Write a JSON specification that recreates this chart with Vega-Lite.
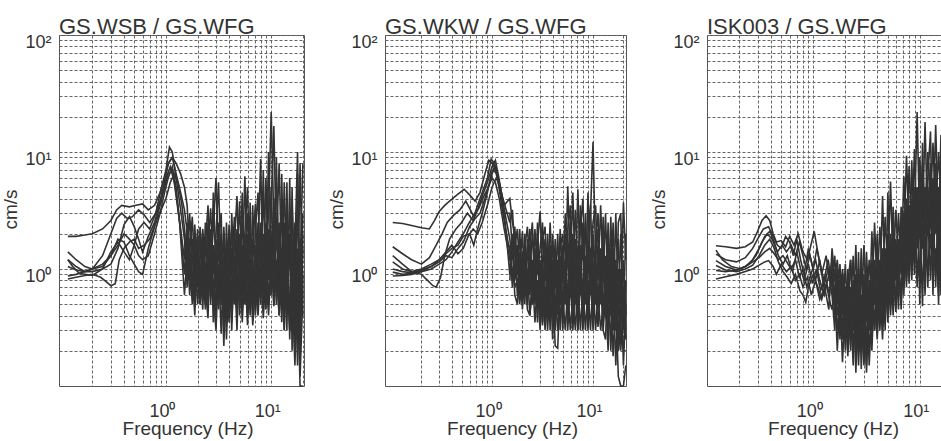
{
"$schema":"https://vega.github.io/schema/vega-lite/v6.json",
"background":"white",
"padding":{"left":0,"top":15,"right":0,"bottom":0},
"spacing":81,
"bounds":"flush",
"config":{
 "font":"Liberation Sans",
 "view":{"stroke":"#555","strokeWidth":1},
 "axis":{"grid":true,"gridColor":"#666","gridDash":[3,2],"gridWidth":1,"domain":false,"ticks":false,"tickSize":0,"labelFont":"Liberation Sans","labelFontSize":18,"labelColor":"#333","labelOverlap":false,"labelFlush":false,"titleFont":"Liberation Sans","titleFontSize":19,"titleFontWeight":"normal","titleColor":"#333"},
 "axisX":{"labelAlign":"center","labelBaseline":"alphabetic","labelPadding":30,"labelOffset":-4,"titleBaseline":"alphabetic","titleAlign":"center","titleY":48},
 "axisY":{"labelAlign":"right","labelBaseline":"middle","labelPadding":8,"labelOffset":7,"titleAngle":270,"titleX":-39,"titleY":174,"titleBaseline":"bottom","titleAlign":"center"},
 "title":{"anchor":"start","frame":"group","baseline":"alphabetic","offset":-6,"fontSize":22,"fontWeight":"normal","color":"#333","font":"Liberation Sans"},
 "line":{"color":"#333","strokeWidth":1.6,"clip":true}
},
"datasets":{
"a":[
{"c":1,"f":0.117,"v":1.9},{"c":1,"f":0.14,"v":1.9},{"c":1,"f":0.17,"v":1.95},{"c":1,"f":0.2,"v":2.0},{"c":1,"f":0.25,"v":2.2},{"c":1,"f":0.3,"v":2.6},{"c":1,"f":0.34,"v":3.2},{"c":1,"f":0.38,"v":3.5},{"c":1,"f":0.45,"v":3.4},{"c":1,"f":0.52,"v":3.5},{"c":1,"f":0.6,"v":3.6},{"c":1,"f":0.68,"v":3.2},{"c":1,"f":0.78,"v":3.5},{"c":1,"f":0.88,"v":4.5},{"c":1,"f":0.97,"v":6},{"c":1,"f":1.06,"v":8},{"c":1,"f":1.15,"v":9},{"c":1,"f":1.25,"v":6.5},{"c":1,"f":1.38,"v":4.5},
{"c":1,"f":1.5,"v":3.2},{"c":1,"f":1.59,"v":2.1},{"c":1,"f":1.68,"v":2.6},{"c":1,"f":1.78,"v":1.5},{"c":1,"f":1.88,"v":2.0},{"c":1,"f":2.0,"v":1.1},{"c":1,"f":2.11,"v":1.8},{"c":1,"f":2.24,"v":0.9},{"c":1,"f":2.37,"v":1.6},{"c":1,"f":2.51,"v":3.5},{"c":1,"f":2.66,"v":1.0},{"c":1,"f":2.82,"v":2.2},{"c":1,"f":2.99,"v":6.0},{"c":1,"f":3.16,"v":1.2},{"c":1,"f":3.35,"v":2.0},{"c":1,"f":3.55,"v":0.7},{"c":1,"f":3.76,"v":1.5},{"c":1,"f":3.98,"v":0.9},{"c":1,"f":4.22,"v":2.2},{"c":1,"f":4.47,"v":0.8},{"c":1,"f":4.73,"v":1.9},{"c":1,"f":5.01,"v":0.7},{"c":1,"f":5.31,"v":2.5},{"c":1,"f":5.62,"v":1.2},{"c":1,"f":5.96,"v":3.0},{"c":1,"f":6.31,"v":0.8},{"c":1,"f":6.68,"v":1.8},{"c":1,"f":7.08,"v":0.9},{"c":1,"f":7.5,"v":2.5},{"c":1,"f":7.94,"v":1.3},{"c":1,"f":8.41,"v":4.0},{"c":1,"f":8.91,"v":1.1},{"c":1,"f":9.44,"v":3.0},{"c":1,"f":10.0,"v":22},{"c":1,"f":10.6,"v":2.5},{"c":1,"f":11.2,"v":5.0},{"c":1,"f":11.9,"v":1.2},{"c":1,"f":12.6,"v":3.0},{"c":1,"f":13.3,"v":0.8},{"c":1,"f":14.1,"v":2.5},{"c":1,"f":15.0,"v":1.0},{"c":1,"f":15.8,"v":3.5},{"c":1,"f":16.8,"v":0.7},{"c":1,"f":17.8,"v":4.0},{"c":1,"f":18.8,"v":0.5},{"c":1,"f":20.0,"v":3.0},
{"c":2,"f":0.117,"v":1.4},{"c":2,"f":0.14,"v":1.2},{"c":2,"f":0.17,"v":1.05},{"c":2,"f":0.2,"v":1.0},{"c":2,"f":0.25,"v":1.3},{"c":2,"f":0.3,"v":2.0},{"c":2,"f":0.34,"v":2.7},{"c":2,"f":0.38,"v":3.0},{"c":2,"f":0.43,"v":2.7},{"c":2,"f":0.48,"v":2.8},{"c":2,"f":0.55,"v":3.2},{"c":2,"f":0.62,"v":2.9},{"c":2,"f":0.7,"v":2.5},{"c":2,"f":0.8,"v":3.0},{"c":2,"f":0.9,"v":4.8},{"c":2,"f":1.0,"v":7},{"c":2,"f":1.08,"v":11},{"c":2,"f":1.15,"v":10},{"c":2,"f":1.25,"v":6},{"c":2,"f":1.38,"v":3.2},
{"c":2,"f":1.5,"v":1.8},{"c":2,"f":1.59,"v":1.0},{"c":2,"f":1.68,"v":1.5},{"c":2,"f":1.78,"v":0.7},{"c":2,"f":1.88,"v":1.3},{"c":2,"f":2.0,"v":0.5},{"c":2,"f":2.11,"v":1.2},{"c":2,"f":2.24,"v":2.2},{"c":2,"f":2.37,"v":0.8},{"c":2,"f":2.51,"v":1.6},{"c":2,"f":2.66,"v":3.3},{"c":2,"f":2.82,"v":0.9},{"c":2,"f":2.99,"v":2.0},{"c":2,"f":3.16,"v":5.5},{"c":2,"f":3.35,"v":0.9},{"c":2,"f":3.55,"v":1.8},{"c":2,"f":3.76,"v":0.5},{"c":2,"f":3.98,"v":2.4},{"c":2,"f":4.22,"v":1.0},{"c":2,"f":4.47,"v":2.8},{"c":2,"f":4.73,"v":0.6},{"c":2,"f":5.01,"v":1.6},{"c":2,"f":5.31,"v":0.9},{"c":2,"f":5.62,"v":6.2},{"c":2,"f":5.96,"v":1.0},{"c":2,"f":6.31,"v":2.0},{"c":2,"f":6.68,"v":0.6},{"c":2,"f":7.08,"v":1.4},{"c":2,"f":7.5,"v":0.8},{"c":2,"f":7.94,"v":2.2},{"c":2,"f":8.41,"v":0.7},{"c":2,"f":8.91,"v":6.0},{"c":2,"f":9.44,"v":1.0},{"c":2,"f":10.0,"v":3.5},{"c":2,"f":10.6,"v":16.7},{"c":2,"f":11.2,"v":1.5},{"c":2,"f":11.9,"v":8.0},{"c":2,"f":12.6,"v":0.9},{"c":2,"f":13.3,"v":2.5},{"c":2,"f":14.1,"v":0.6},{"c":2,"f":15.0,"v":2.0},{"c":2,"f":15.8,"v":0.5},{"c":2,"f":16.8,"v":2.5},{"c":2,"f":17.8,"v":0.4},{"c":2,"f":18.8,"v":8.0},{"c":2,"f":20.0,"v":0.6},
{"c":3,"f":0.117,"v":1.2},{"c":3,"f":0.14,"v":1.05},{"c":3,"f":0.17,"v":0.95},{"c":3,"f":0.2,"v":0.95},{"c":3,"f":0.25,"v":1.0},{"c":3,"f":0.3,"v":1.1},{"c":3,"f":0.35,"v":1.5},{"c":3,"f":0.4,"v":2.4},{"c":3,"f":0.45,"v":2.8},{"c":3,"f":0.5,"v":2.3},{"c":3,"f":0.55,"v":1.8},{"c":3,"f":0.6,"v":1.4},{"c":3,"f":0.68,"v":1.9},{"c":3,"f":0.78,"v":2.5},{"c":3,"f":0.88,"v":3.8},{"c":3,"f":0.97,"v":5.5},{"c":3,"f":1.05,"v":8},{"c":3,"f":1.15,"v":9},{"c":3,"f":1.25,"v":8},{"c":3,"f":1.38,"v":6.5},
{"c":3,"f":1.5,"v":5.0},{"c":3,"f":1.59,"v":3.5},{"c":3,"f":1.68,"v":1.4},{"c":3,"f":1.78,"v":2.8},{"c":3,"f":1.88,"v":0.9},{"c":3,"f":2.0,"v":2.2},{"c":3,"f":2.11,"v":0.6},{"c":3,"f":2.24,"v":1.5},{"c":3,"f":2.37,"v":0.45},{"c":3,"f":2.51,"v":1.2},{"c":3,"f":2.66,"v":0.6},{"c":3,"f":2.82,"v":4.5},{"c":3,"f":2.99,"v":0.9},{"c":3,"f":3.16,"v":2.5},{"c":3,"f":3.35,"v":0.5},{"c":3,"f":3.55,"v":2.3},{"c":3,"f":3.76,"v":0.7},{"c":3,"f":3.98,"v":1.4},{"c":3,"f":4.22,"v":0.3},{"c":3,"f":4.47,"v":1.6},{"c":3,"f":4.73,"v":4.2},{"c":3,"f":5.01,"v":0.8},{"c":3,"f":5.31,"v":4.5},{"c":3,"f":5.62,"v":0.7},{"c":3,"f":5.96,"v":2.0},{"c":3,"f":6.31,"v":0.5},{"c":3,"f":6.68,"v":3.5},{"c":3,"f":7.08,"v":0.6},{"c":3,"f":7.5,"v":2.0},{"c":3,"f":7.94,"v":0.6},{"c":3,"f":8.41,"v":7.0},{"c":3,"f":8.91,"v":0.8},{"c":3,"f":9.44,"v":10},{"c":3,"f":10.0,"v":1.2},{"c":3,"f":10.6,"v":4.0},{"c":3,"f":11.2,"v":0.7},{"c":3,"f":11.9,"v":2.5},{"c":3,"f":12.6,"v":0.5},{"c":3,"f":13.3,"v":5.5},{"c":3,"f":14.1,"v":0.9},{"c":3,"f":15.0,"v":2.0},{"c":3,"f":15.8,"v":0.4},{"c":3,"f":16.8,"v":1.5},{"c":3,"f":17.8,"v":10},{"c":3,"f":18.8,"v":0.3},{"c":3,"f":20.0,"v":1.5},
{"c":4,"f":0.117,"v":1.05},{"c":4,"f":0.14,"v":0.98},{"c":4,"f":0.17,"v":0.95},{"c":4,"f":0.2,"v":1.0},{"c":4,"f":0.25,"v":1.1},{"c":4,"f":0.3,"v":1.3},{"c":4,"f":0.35,"v":1.8},{"c":4,"f":0.4,"v":1.7},{"c":4,"f":0.45,"v":1.3},{"c":4,"f":0.5,"v":1.1},{"c":4,"f":0.55,"v":0.95},{"c":4,"f":0.6,"v":0.9},{"c":4,"f":0.68,"v":1.5},{"c":4,"f":0.78,"v":2.3},{"c":4,"f":0.88,"v":3.5},{"c":4,"f":0.97,"v":5},{"c":4,"f":1.05,"v":6.5},{"c":4,"f":1.15,"v":7},{"c":4,"f":1.25,"v":4.5},{"c":4,"f":1.38,"v":2.2},
{"c":4,"f":1.5,"v":1.2},{"c":4,"f":1.59,"v":2.5},{"c":4,"f":1.68,"v":0.8},{"c":4,"f":1.78,"v":1.8},{"c":4,"f":1.88,"v":0.55},{"c":4,"f":2.0,"v":1.5},{"c":4,"f":2.11,"v":0.8},{"c":4,"f":2.24,"v":2.0},{"c":4,"f":2.37,"v":0.5},{"c":4,"f":2.51,"v":2.5},{"c":4,"f":2.66,"v":0.7},{"c":4,"f":2.82,"v":1.6},{"c":4,"f":2.99,"v":0.4},{"c":4,"f":3.16,"v":1.8},{"c":4,"f":3.35,"v":3.0},{"c":4,"f":3.55,"v":0.3},{"c":4,"f":3.76,"v":2.5},{"c":4,"f":3.98,"v":0.5},{"c":4,"f":4.22,"v":1.5},{"c":4,"f":4.47,"v":0.5},{"c":4,"f":4.73,"v":1.2},{"c":4,"f":5.01,"v":3.8},{"c":4,"f":5.31,"v":0.6},{"c":4,"f":5.62,"v":2.0},{"c":4,"f":5.96,"v":5.0},{"c":4,"f":6.31,"v":0.6},{"c":4,"f":6.68,"v":1.5},{"c":4,"f":7.08,"v":3.6},{"c":4,"f":7.5,"v":0.5},{"c":4,"f":7.94,"v":1.8},{"c":4,"f":8.41,"v":0.6},{"c":4,"f":8.91,"v":2.5},{"c":4,"f":9.44,"v":0.8},{"c":4,"f":10.0,"v":5.0},{"c":4,"f":10.6,"v":0.6},{"c":4,"f":11.2,"v":9.0},{"c":4,"f":11.9,"v":0.6},{"c":4,"f":12.6,"v":6.5},{"c":4,"f":13.3,"v":0.4},{"c":4,"f":14.1,"v":1.8},{"c":4,"f":15.0,"v":0.3},{"c":4,"f":15.8,"v":5.0},{"c":4,"f":16.8,"v":0.25},{"c":4,"f":17.8,"v":1.5},{"c":4,"f":18.8,"v":0.2},{"c":4,"f":20.0,"v":2.0},
{"c":5,"f":0.117,"v":0.87},{"c":5,"f":0.14,"v":0.9},{"c":5,"f":0.17,"v":0.95},{"c":5,"f":0.2,"v":1.0},{"c":5,"f":0.25,"v":1.05},{"c":5,"f":0.3,"v":1.3},{"c":5,"f":0.35,"v":1.6},{"c":5,"f":0.4,"v":2.0},{"c":5,"f":0.45,"v":1.8},{"c":5,"f":0.5,"v":1.6},{"c":5,"f":0.55,"v":1.3},{"c":5,"f":0.6,"v":1.2},{"c":5,"f":0.68,"v":1.3},{"c":5,"f":0.78,"v":2.0},{"c":5,"f":0.88,"v":3.0},{"c":5,"f":0.97,"v":4.5},{"c":5,"f":1.05,"v":6},{"c":5,"f":1.15,"v":7.5},{"c":5,"f":1.25,"v":5},{"c":5,"f":1.38,"v":2.0},
{"c":5,"f":1.5,"v":0.9},{"c":5,"f":1.59,"v":1.6},{"c":5,"f":1.68,"v":0.6},{"c":5,"f":1.78,"v":1.2},{"c":5,"f":1.88,"v":2.4},{"c":5,"f":2.0,"v":0.7},{"c":5,"f":2.11,"v":2.3},{"c":5,"f":2.24,"v":0.6},{"c":5,"f":2.37,"v":2.5},{"c":5,"f":2.51,"v":0.5},{"c":5,"f":2.66,"v":1.5},{"c":5,"f":2.82,"v":0.5},{"c":5,"f":2.99,"v":1.8},{"c":5,"f":3.16,"v":0.6},{"c":5,"f":3.35,"v":1.2},{"c":5,"f":3.55,"v":0.22},{"c":5,"f":3.76,"v":1.2},{"c":5,"f":3.98,"v":2.0},{"c":5,"f":4.22,"v":0.6},{"c":5,"f":4.47,"v":1.2},{"c":5,"f":4.73,"v":0.4},{"c":5,"f":5.01,"v":2.0},{"c":5,"f":5.31,"v":0.5},{"c":5,"f":5.62,"v":1.6},{"c":5,"f":5.96,"v":0.4},{"c":5,"f":6.31,"v":3.7},{"c":5,"f":6.68,"v":0.4},{"c":5,"f":7.08,"v":2.2},{"c":5,"f":7.5,"v":4.5},{"c":5,"f":7.94,"v":0.5},{"c":5,"f":8.41,"v":2.0},{"c":5,"f":8.91,"v":0.5},{"c":5,"f":9.44,"v":1.8},{"c":5,"f":10.0,"v":0.6},{"c":5,"f":10.6,"v":2.5},{"c":5,"f":11.2,"v":0.5},{"c":5,"f":11.9,"v":1.5},{"c":5,"f":12.6,"v":0.35},{"c":5,"f":13.3,"v":2.0},{"c":5,"f":14.1,"v":0.3},{"c":5,"f":15.0,"v":6.0},{"c":5,"f":15.8,"v":0.2},{"c":5,"f":16.8,"v":1.2},{"c":5,"f":17.8,"v":0.15},{"c":5,"f":18.8,"v":1.0},{"c":5,"f":20.0,"v":8.0},
{"c":6,"f":0.117,"v":0.82},{"c":6,"f":0.14,"v":0.85},{"c":6,"f":0.17,"v":0.88},{"c":6,"f":0.2,"v":0.9},{"c":6,"f":0.24,"v":0.85},{"c":6,"f":0.27,"v":0.78},{"c":6,"f":0.3,"v":0.72},{"c":6,"f":0.33,"v":0.75},{"c":6,"f":0.36,"v":1.2},{"c":6,"f":0.4,"v":1.5},{"c":6,"f":0.45,"v":1.7},{"c":6,"f":0.5,"v":1.8},{"c":6,"f":0.55,"v":1.5},{"c":6,"f":0.62,"v":1.6},{"c":6,"f":0.7,"v":1.8},{"c":6,"f":0.8,"v":2.5},{"c":6,"f":0.9,"v":3.2},{"c":6,"f":1.0,"v":4},{"c":6,"f":1.1,"v":5.5},{"c":6,"f":1.2,"v":6.5},{"c":6,"f":1.3,"v":5.5},{"c":6,"f":1.42,"v":3.5},
{"c":6,"f":1.5,"v":2.2},{"c":6,"f":1.59,"v":0.8},{"c":6,"f":1.68,"v":1.2},{"c":6,"f":1.78,"v":0.5},{"c":6,"f":1.88,"v":1.8},{"c":6,"f":2.0,"v":0.9},{"c":6,"f":2.11,"v":0.5},{"c":6,"f":2.24,"v":1.3},{"c":6,"f":2.37,"v":0.7},{"c":6,"f":2.51,"v":0.38},{"c":6,"f":2.66,"v":2.0},{"c":6,"f":2.82,"v":0.35},{"c":6,"f":2.99,"v":1.0},{"c":6,"f":3.16,"v":0.5},{"c":6,"f":3.35,"v":1.4},{"c":6,"f":3.55,"v":0.4},{"c":6,"f":3.76,"v":0.9},{"c":6,"f":3.98,"v":0.35},{"c":6,"f":4.22,"v":3.0},{"c":6,"f":4.47,"v":0.7},{"c":6,"f":4.73,"v":1.8},{"c":6,"f":5.01,"v":0.4},{"c":6,"f":5.31,"v":1.3},{"c":6,"f":5.62,"v":0.5},{"c":6,"f":5.96,"v":1.3},{"c":6,"f":6.31,"v":0.4},{"c":6,"f":6.68,"v":1.2},{"c":6,"f":7.08,"v":0.4},{"c":6,"f":7.5,"v":1.4},{"c":6,"f":7.94,"v":8.7},{"c":6,"f":8.41,"v":0.5},{"c":6,"f":8.91,"v":1.5},{"c":6,"f":9.44,"v":0.5},{"c":6,"f":10.0,"v":2.0},{"c":6,"f":10.6,"v":0.5},{"c":6,"f":11.2,"v":1.2},{"c":6,"f":11.9,"v":0.4},{"c":6,"f":12.6,"v":1.5},{"c":6,"f":13.3,"v":0.3},{"c":6,"f":14.1,"v":5.5},{"c":6,"f":15.0,"v":0.25},{"c":6,"f":15.8,"v":1.4},{"c":6,"f":16.8,"v":0.18},{"c":6,"f":17.8,"v":6.5},{"c":6,"f":18.8,"v":0.12},{"c":6,"f":20.0,"v":0.6},
{"c":7,"f":0.117,"v":1.2},{"c":7,"f":0.13,"v":1.05},{"c":7,"f":0.15,"v":0.92},{"c":7,"f":0.2,"v":0.88},{"c":7,"f":0.25,"v":1.0},{"c":7,"f":0.3,"v":1.4},{"c":7,"f":0.35,"v":1.7},{"c":7,"f":0.4,"v":1.4},{"c":7,"f":0.45,"v":1.2},{"c":7,"f":0.5,"v":1.6},{"c":7,"f":0.55,"v":2.2},{"c":7,"f":0.62,"v":2.5},{"c":7,"f":0.7,"v":2.2},{"c":7,"f":0.8,"v":3},{"c":7,"f":0.9,"v":4},{"c":7,"f":1.0,"v":6},{"c":7,"f":1.1,"v":7.5},{"c":7,"f":1.2,"v":5.5},{"c":7,"f":1.35,"v":2.5},
{"c":7,"f":1.5,"v":0.6},{"c":7,"f":1.59,"v":1.3},{"c":7,"f":1.68,"v":3.0},{"c":7,"f":1.78,"v":0.9},{"c":7,"f":1.88,"v":0.4},{"c":7,"f":2.0,"v":1.6},{"c":7,"f":2.11,"v":1.0},{"c":7,"f":2.24,"v":0.45},{"c":7,"f":2.37,"v":1.9},{"c":7,"f":2.51,"v":0.7},{"c":7,"f":2.66,"v":1.2},{"c":7,"f":2.82,"v":0.6},{"c":7,"f":2.99,"v":0.3},{"c":7,"f":3.16,"v":1.1},{"c":7,"f":3.35,"v":0.28},{"c":7,"f":3.55,"v":1.3},{"c":7,"f":3.76,"v":0.25},{"c":7,"f":3.98,"v":1.0},{"c":7,"f":4.22,"v":0.35},{"c":7,"f":4.47,"v":1.1},{"c":7,"f":4.73,"v":0.3},{"c":7,"f":5.01,"v":1.4},{"c":7,"f":5.31,"v":0.35},{"c":7,"f":5.62,"v":1.0},{"c":7,"f":5.96,"v":0.33},{"c":7,"f":6.31,"v":1.2},{"c":7,"f":6.68,"v":0.33},{"c":7,"f":7.08,"v":0.7},{"c":7,"f":7.5,"v":0.4},{"c":7,"f":7.94,"v":1.0},{"c":7,"f":8.41,"v":0.38},{"c":7,"f":8.91,"v":0.9},{"c":7,"f":9.44,"v":0.4},{"c":7,"f":10.0,"v":1.3},{"c":7,"f":10.6,"v":0.48},{"c":7,"f":11.2,"v":1.0},{"c":7,"f":11.9,"v":0.4},{"c":7,"f":12.6,"v":0.8},{"c":7,"f":13.3,"v":0.3},{"c":7,"f":14.1,"v":1.2},{"c":7,"f":15.0,"v":0.3},{"c":7,"f":15.8,"v":0.8},{"c":7,"f":16.8,"v":0.15},{"c":7,"f":17.8,"v":0.8},{"c":7,"f":18.8,"v":0.1},{"c":7,"f":20.0,"v":0.1},
{"c":8,"f":1.5,"v":2.0},{"c":8,"f":1.59,"v":0.7},{"c":8,"f":1.68,"v":1.4},{"c":8,"f":1.78,"v":0.6},{"c":8,"f":1.88,"v":1.0},{"c":8,"f":2.0,"v":1.9},{"c":8,"f":2.11,"v":0.6},{"c":8,"f":2.24,"v":1.4},{"c":8,"f":2.37,"v":0.5},{"c":8,"f":2.51,"v":0.9},{"c":8,"f":2.66,"v":2.2},{"c":8,"f":2.82,"v":0.6},{"c":8,"f":2.99,"v":1.3},{"c":8,"f":3.16,"v":0.45},{"c":8,"f":3.35,"v":1.6},{"c":8,"f":3.55,"v":0.5},{"c":8,"f":3.76,"v":1.0},{"c":8,"f":3.98,"v":1.8},{"c":8,"f":4.22,"v":0.45},{"c":8,"f":4.47,"v":1.3},{"c":8,"f":4.73,"v":0.6},{"c":8,"f":5.01,"v":1.1},{"c":8,"f":5.31,"v":0.45},{"c":8,"f":5.62,"v":2.0},{"c":8,"f":5.96,"v":0.7},{"c":8,"f":6.31,"v":1.2},{"c":8,"f":6.68,"v":0.5},{"c":8,"f":7.08,"v":1.6},{"c":8,"f":7.5,"v":0.6},{"c":8,"f":7.94,"v":2.5},{"c":8,"f":8.41,"v":0.6},{"c":8,"f":8.91,"v":1.3},{"c":8,"f":9.44,"v":0.5},{"c":8,"f":10.0,"v":1.8},{"c":8,"f":10.6,"v":0.7},{"c":8,"f":11.2,"v":2.2},{"c":8,"f":11.9,"v":0.5},{"c":8,"f":12.6,"v":1.4},{"c":8,"f":13.3,"v":0.4},{"c":8,"f":14.1,"v":1.0},{"c":8,"f":15.0,"v":0.35},{"c":8,"f":15.8,"v":1.8},{"c":8,"f":16.8,"v":0.4},{"c":8,"f":17.8,"v":1.2},{"c":8,"f":18.8,"v":0.3},{"c":8,"f":20.0,"v":0.9},
{"c":9,"f":1.5,"v":1.0},{"c":9,"f":1.59,"v":2.0},{"c":9,"f":1.68,"v":0.8},{"c":9,"f":1.78,"v":1.6},{"c":9,"f":1.88,"v":0.7},{"c":9,"f":2.0,"v":1.3},{"c":9,"f":2.11,"v":0.5},{"c":9,"f":2.24,"v":1.7},{"c":9,"f":2.37,"v":0.9},{"c":9,"f":2.51,"v":2.0},{"c":9,"f":2.66,"v":0.5},{"c":9,"f":2.82,"v":1.2},{"c":9,"f":2.99,"v":0.7},{"c":9,"f":3.16,"v":1.6},{"c":9,"f":3.35,"v":0.5},{"c":9,"f":3.55,"v":0.9},{"c":9,"f":3.76,"v":0.35},{"c":9,"f":3.98,"v":1.4},{"c":9,"f":4.22,"v":0.9},{"c":9,"f":4.47,"v":0.5},{"c":9,"f":4.73,"v":2.2},{"c":9,"f":5.01,"v":0.6},{"c":9,"f":5.31,"v":1.6},{"c":9,"f":5.62,"v":0.5},{"c":9,"f":5.96,"v":1.0},{"c":9,"f":6.31,"v":2.0},{"c":9,"f":6.68,"v":0.7},{"c":9,"f":7.08,"v":1.1},{"c":9,"f":7.5,"v":0.5},{"c":9,"f":7.94,"v":1.5},{"c":9,"f":8.41,"v":1.0},{"c":9,"f":8.91,"v":0.45},{"c":9,"f":9.44,"v":2.2},{"c":9,"f":10.0,"v":0.6},{"c":9,"f":10.6,"v":1.6},{"c":9,"f":11.2,"v":0.8},{"c":9,"f":11.9,"v":2.0},{"c":9,"f":12.6,"v":0.6},{"c":9,"f":13.3,"v":1.2},{"c":9,"f":14.1,"v":0.5},{"c":9,"f":15.0,"v":1.5},{"c":9,"f":15.8,"v":0.35},{"c":9,"f":16.8,"v":0.8},{"c":9,"f":17.8,"v":0.25},{"c":9,"f":18.8,"v":1.8},{"c":9,"f":20.0,"v":0.4}
],
"b":[
{"c":1,"f":0.104,"v":2.5},{"c":1,"f":0.13,"v":2.45},{"c":1,"f":0.16,"v":2.35},{"c":1,"f":0.2,"v":2.25},{"c":1,"f":0.24,"v":2.2},{"c":1,"f":0.27,"v":2.6},{"c":1,"f":0.3,"v":3.1},{"c":1,"f":0.34,"v":3.5},{"c":1,"f":0.38,"v":3.8},{"c":1,"f":0.45,"v":4.3},{"c":1,"f":0.53,"v":4.8},{"c":1,"f":0.6,"v":4.3},{"c":1,"f":0.68,"v":3.8},{"c":1,"f":0.76,"v":4.5},{"c":1,"f":0.85,"v":6.5},{"c":1,"f":0.93,"v":8.5},{"c":1,"f":1.0,"v":8},{"c":1,"f":1.1,"v":7},{"c":1,"f":1.2,"v":5},{"c":1,"f":1.32,"v":3.5},
{"c":1,"f":1.5,"v":4.0},{"c":1,"f":1.59,"v":2.5},{"c":1,"f":1.68,"v":2.0},{"c":1,"f":1.78,"v":1.2},{"c":1,"f":1.88,"v":1.8},{"c":1,"f":2.0,"v":0.8},{"c":1,"f":2.11,"v":1.5},{"c":1,"f":2.24,"v":2.3},{"c":1,"f":2.37,"v":1.0},{"c":1,"f":2.51,"v":2.0},{"c":1,"f":2.66,"v":0.8},{"c":1,"f":2.82,"v":1.6},{"c":1,"f":2.99,"v":3.1},{"c":1,"f":3.16,"v":1.0},{"c":1,"f":3.35,"v":1.8},{"c":1,"f":3.55,"v":0.7},{"c":1,"f":3.76,"v":2.5},{"c":1,"f":3.98,"v":0.8},{"c":1,"f":4.22,"v":1.5},{"c":1,"f":4.47,"v":0.6},{"c":1,"f":4.73,"v":2.2},{"c":1,"f":5.01,"v":0.8},{"c":1,"f":5.31,"v":3.0},{"c":1,"f":5.62,"v":1.2},{"c":1,"f":5.96,"v":2.5},{"c":1,"f":6.31,"v":0.9},{"c":1,"f":6.68,"v":3.2},{"c":1,"f":7.08,"v":1.0},{"c":1,"f":7.5,"v":3.5},{"c":1,"f":7.94,"v":1.2},{"c":1,"f":8.41,"v":2.5},{"c":1,"f":8.91,"v":0.9},{"c":1,"f":9.44,"v":3.0},{"c":1,"f":10.0,"v":12.2},{"c":1,"f":10.6,"v":1.2},{"c":1,"f":11.2,"v":2.2},{"c":1,"f":11.9,"v":0.8},{"c":1,"f":12.6,"v":2.0},{"c":1,"f":13.3,"v":0.7},{"c":1,"f":14.1,"v":1.8},{"c":1,"f":15.0,"v":0.6},{"c":1,"f":15.8,"v":2.5},{"c":1,"f":16.8,"v":0.6},{"c":1,"f":17.8,"v":1.8},{"c":1,"f":18.8,"v":0.5},{"c":1,"f":20.0,"v":3.7},{"c":1,"f":21.1,"v":1.2},
{"c":2,"f":0.104,"v":1.55},{"c":2,"f":0.13,"v":1.35},{"c":2,"f":0.16,"v":1.2},{"c":2,"f":0.2,"v":1.1},{"c":2,"f":0.24,"v":1.25},{"c":2,"f":0.28,"v":1.6},{"c":2,"f":0.32,"v":2.0},{"c":2,"f":0.36,"v":2.5},{"c":2,"f":0.42,"v":2.9},{"c":2,"f":0.48,"v":3.2},{"c":2,"f":0.55,"v":3.8},{"c":2,"f":0.6,"v":3.3},{"c":2,"f":0.66,"v":2.8},{"c":2,"f":0.72,"v":3.5},{"c":2,"f":0.8,"v":4.5},{"c":2,"f":0.9,"v":6},{"c":2,"f":0.98,"v":8.7},{"c":2,"f":1.06,"v":8},{"c":2,"f":1.15,"v":6},{"c":2,"f":1.28,"v":4},
{"c":2,"f":1.5,"v":2.5},{"c":2,"f":1.59,"v":3.2},{"c":2,"f":1.68,"v":1.5},{"c":2,"f":1.78,"v":2.2},{"c":2,"f":1.88,"v":1.0},{"c":2,"f":2.0,"v":2.1},{"c":2,"f":2.11,"v":0.7},{"c":2,"f":2.24,"v":1.3},{"c":2,"f":2.37,"v":2.2},{"c":2,"f":2.51,"v":0.7},{"c":2,"f":2.66,"v":2.2},{"c":2,"f":2.82,"v":0.9},{"c":2,"f":2.99,"v":1.5},{"c":2,"f":3.16,"v":2.5},{"c":2,"f":3.35,"v":0.8},{"c":2,"f":3.55,"v":2.0},{"c":2,"f":3.76,"v":0.6},{"c":2,"f":3.98,"v":2.0},{"c":2,"f":4.22,"v":0.7},{"c":2,"f":4.47,"v":2.0},{"c":2,"f":4.73,"v":0.5},{"c":2,"f":5.01,"v":1.5},{"c":2,"f":5.31,"v":0.8},{"c":2,"f":5.62,"v":5.1},{"c":2,"f":5.96,"v":1.0},{"c":2,"f":6.31,"v":4.5},{"c":2,"f":6.68,"v":0.8},{"c":2,"f":7.08,"v":4.8},{"c":2,"f":7.5,"v":0.8},{"c":2,"f":7.94,"v":2.5},{"c":2,"f":8.41,"v":0.6},{"c":2,"f":8.91,"v":4.5},{"c":2,"f":9.44,"v":1.0},{"c":2,"f":10.0,"v":2.5},{"c":2,"f":10.6,"v":3.5},{"c":2,"f":11.2,"v":0.8},{"c":2,"f":11.9,"v":3.5},{"c":2,"f":12.6,"v":0.9},{"c":2,"f":13.3,"v":3.0},{"c":2,"f":14.1,"v":0.5},{"c":2,"f":15.0,"v":2.8},{"c":2,"f":15.8,"v":0.4},{"c":2,"f":16.8,"v":3.0},{"c":2,"f":17.8,"v":0.5},{"c":2,"f":18.8,"v":2.0},{"c":2,"f":20.0,"v":0.4},{"c":2,"f":21.1,"v":2.0},
{"c":3,"f":0.104,"v":1.3},{"c":3,"f":0.13,"v":1.1},{"c":3,"f":0.16,"v":0.95},{"c":3,"f":0.2,"v":0.9},{"c":3,"f":0.23,"v":0.8},{"c":3,"f":0.26,"v":0.72},{"c":3,"f":0.28,"v":0.7},{"c":3,"f":0.31,"v":0.85},{"c":3,"f":0.34,"v":1.3},{"c":3,"f":0.38,"v":1.8},{"c":3,"f":0.44,"v":2.2},{"c":3,"f":0.5,"v":2.5},{"c":3,"f":0.57,"v":3.0},{"c":3,"f":0.65,"v":2.6},{"c":3,"f":0.72,"v":3.2},{"c":3,"f":0.8,"v":4.2},{"c":3,"f":0.9,"v":5.5},{"c":3,"f":1.0,"v":7.5},{"c":3,"f":1.08,"v":8.5},{"c":3,"f":1.17,"v":6},{"c":3,"f":1.3,"v":3.5},
{"c":3,"f":1.5,"v":1.8},{"c":3,"f":1.59,"v":1.2},{"c":3,"f":1.68,"v":2.3},{"c":3,"f":1.78,"v":0.9},{"c":3,"f":1.88,"v":2.2},{"c":3,"f":2.0,"v":0.6},{"c":3,"f":2.11,"v":2.0},{"c":3,"f":2.24,"v":0.7},{"c":3,"f":2.37,"v":1.6},{"c":3,"f":2.51,"v":2.5},{"c":3,"f":2.66,"v":0.6},{"c":3,"f":2.82,"v":2.5},{"c":3,"f":2.99,"v":0.6},{"c":3,"f":3.16,"v":1.8},{"c":3,"f":3.35,"v":2.3},{"c":3,"f":3.55,"v":0.5},{"c":3,"f":3.76,"v":1.6},{"c":3,"f":3.98,"v":0.5},{"c":3,"f":4.22,"v":1.8},{"c":3,"f":4.47,"v":0.4},{"c":3,"f":4.73,"v":1.5},{"c":3,"f":5.01,"v":2.0},{"c":3,"f":5.31,"v":0.5},{"c":3,"f":5.62,"v":2.2},{"c":3,"f":5.96,"v":3.5},{"c":3,"f":6.31,"v":0.6},{"c":3,"f":6.68,"v":1.8},{"c":3,"f":7.08,"v":0.7},{"c":3,"f":7.5,"v":2.2},{"c":3,"f":7.94,"v":4.0},{"c":3,"f":8.41,"v":0.7},{"c":3,"f":8.91,"v":2.0},{"c":3,"f":9.44,"v":3.5},{"c":3,"f":10.0,"v":0.7},{"c":3,"f":10.6,"v":1.8},{"c":3,"f":11.2,"v":3.0},{"c":3,"f":11.9,"v":0.7},{"c":3,"f":12.6,"v":2.8},{"c":3,"f":13.3,"v":0.5},{"c":3,"f":14.1,"v":2.5},{"c":3,"f":15.0,"v":0.4},{"c":3,"f":15.8,"v":1.5},{"c":3,"f":16.8,"v":0.3},{"c":3,"f":17.8,"v":2.5},{"c":3,"f":18.8,"v":3.0},{"c":3,"f":20.0,"v":0.3},{"c":3,"f":21.1,"v":0.8},
{"c":4,"f":0.104,"v":1.15},{"c":4,"f":0.13,"v":1.0},{"c":4,"f":0.16,"v":0.95},{"c":4,"f":0.2,"v":1.0},{"c":4,"f":0.25,"v":1.1},{"c":4,"f":0.3,"v":1.2},{"c":4,"f":0.35,"v":1.35},{"c":4,"f":0.4,"v":1.5},{"c":4,"f":0.46,"v":1.6},{"c":4,"f":0.52,"v":1.9},{"c":4,"f":0.6,"v":2.0},{"c":4,"f":0.66,"v":1.6},{"c":4,"f":0.72,"v":2.2},{"c":4,"f":0.8,"v":3},{"c":4,"f":0.9,"v":4.5},{"c":4,"f":0.98,"v":6.5},{"c":4,"f":1.06,"v":7.5},{"c":4,"f":1.15,"v":5.5},{"c":4,"f":1.28,"v":3},
{"c":4,"f":1.5,"v":1.4},{"c":4,"f":1.59,"v":0.8},{"c":4,"f":1.68,"v":1.0},{"c":4,"f":1.78,"v":1.6},{"c":4,"f":1.88,"v":0.6},{"c":4,"f":2.0,"v":1.4},{"c":4,"f":2.11,"v":0.5},{"c":4,"f":2.24,"v":1.8},{"c":4,"f":2.37,"v":0.6},{"c":4,"f":2.51,"v":1.2},{"c":4,"f":2.66,"v":0.5},{"c":4,"f":2.82,"v":1.4},{"c":4,"f":2.99,"v":0.4},{"c":4,"f":3.16,"v":1.0},{"c":4,"f":3.35,"v":0.4},{"c":4,"f":3.55,"v":1.5},{"c":4,"f":3.76,"v":0.3},{"c":4,"f":3.98,"v":1.2},{"c":4,"f":4.22,"v":0.3},{"c":4,"f":4.47,"v":1.2},{"c":4,"f":4.73,"v":0.3},{"c":4,"f":5.01,"v":1.0},{"c":4,"f":5.31,"v":2.0},{"c":4,"f":5.62,"v":0.4},{"c":4,"f":5.96,"v":1.3},{"c":4,"f":6.31,"v":0.5},{"c":4,"f":6.68,"v":1.5},{"c":4,"f":7.08,"v":0.4},{"c":4,"f":7.5,"v":1.6},{"c":4,"f":7.94,"v":0.5},{"c":4,"f":8.41,"v":3.0},{"c":4,"f":8.91,"v":0.5},{"c":4,"f":9.44,"v":1.5},{"c":4,"f":10.0,"v":0.5},{"c":4,"f":10.6,"v":1.3},{"c":4,"f":11.2,"v":0.5},{"c":4,"f":11.9,"v":1.5},{"c":4,"f":12.6,"v":0.4},{"c":4,"f":13.3,"v":1.3},{"c":4,"f":14.1,"v":0.3},{"c":4,"f":15.0,"v":1.5},{"c":4,"f":15.8,"v":0.3},{"c":4,"f":16.8,"v":1.2},{"c":4,"f":17.8,"v":0.2},{"c":4,"f":18.8,"v":1.0},{"c":4,"f":20.0,"v":0.15},{"c":4,"f":21.1,"v":0.5},
{"c":5,"f":0.104,"v":1.0},{"c":5,"f":0.13,"v":0.95},{"c":5,"f":0.16,"v":0.93},{"c":5,"f":0.2,"v":0.97},{"c":5,"f":0.25,"v":1.05},{"c":5,"f":0.3,"v":1.15},{"c":5,"f":0.35,"v":1.3},{"c":5,"f":0.4,"v":1.25},{"c":5,"f":0.46,"v":1.5},{"c":5,"f":0.52,"v":1.7},{"c":5,"f":0.6,"v":2.3},{"c":5,"f":0.68,"v":2.7},{"c":5,"f":0.76,"v":3.0},{"c":5,"f":0.85,"v":4.0},{"c":5,"f":0.95,"v":5.5},{"c":5,"f":1.03,"v":7},{"c":5,"f":1.12,"v":6.5},{"c":5,"f":1.22,"v":4.5},{"c":5,"f":1.35,"v":2.5},
{"c":5,"f":1.5,"v":0.9},{"c":5,"f":1.59,"v":1.8},{"c":5,"f":1.68,"v":0.6},{"c":5,"f":1.78,"v":0.5},{"c":5,"f":1.88,"v":1.2},{"c":5,"f":2.0,"v":0.45},{"c":5,"f":2.11,"v":1.0},{"c":5,"f":2.24,"v":0.45},{"c":5,"f":2.37,"v":0.4},{"c":5,"f":2.51,"v":0.9},{"c":5,"f":2.66,"v":0.35},{"c":5,"f":2.82,"v":0.8},{"c":5,"f":2.99,"v":0.3},{"c":5,"f":3.16,"v":0.9},{"c":5,"f":3.35,"v":0.3},{"c":5,"f":3.55,"v":0.9},{"c":5,"f":3.76,"v":0.35},{"c":5,"f":3.98,"v":0.8},{"c":5,"f":4.22,"v":0.22},{"c":5,"f":4.47,"v":0.21},{"c":5,"f":4.73,"v":0.8},{"c":5,"f":5.01,"v":0.3},{"c":5,"f":5.31,"v":0.9},{"c":5,"f":5.62,"v":0.3},{"c":5,"f":5.96,"v":0.8},{"c":5,"f":6.31,"v":0.3},{"c":5,"f":6.68,"v":0.7},{"c":5,"f":7.08,"v":0.3},{"c":5,"f":7.5,"v":0.9},{"c":5,"f":7.94,"v":0.3},{"c":5,"f":8.41,"v":0.8},{"c":5,"f":8.91,"v":0.3},{"c":5,"f":9.44,"v":0.9},{"c":5,"f":10.0,"v":0.3},{"c":5,"f":10.6,"v":0.8},{"c":5,"f":11.2,"v":0.32},{"c":5,"f":11.9,"v":0.8},{"c":5,"f":12.6,"v":0.3},{"c":5,"f":13.3,"v":0.6},{"c":5,"f":14.1,"v":0.2},{"c":5,"f":15.0,"v":0.8},{"c":5,"f":15.8,"v":0.18},{"c":5,"f":16.8,"v":0.5},{"c":5,"f":17.8,"v":0.12},{"c":5,"f":18.8,"v":0.1},{"c":5,"f":20.0,"v":0.1},{"c":5,"f":21.1,"v":0.15},
{"c":6,"f":0.104,"v":0.94},{"c":6,"f":0.13,"v":0.9},{"c":6,"f":0.16,"v":0.92},{"c":6,"f":0.2,"v":0.98},{"c":6,"f":0.25,"v":1.05},{"c":6,"f":0.3,"v":1.2},{"c":6,"f":0.35,"v":1.4},{"c":6,"f":0.4,"v":1.6},{"c":6,"f":0.46,"v":1.35},{"c":6,"f":0.52,"v":1.5},{"c":6,"f":0.58,"v":1.9},{"c":6,"f":0.65,"v":2.2},{"c":6,"f":0.72,"v":2.0},{"c":6,"f":0.8,"v":2.5},{"c":6,"f":0.9,"v":3.5},{"c":6,"f":1.0,"v":5},{"c":6,"f":1.1,"v":6},{"c":6,"f":1.2,"v":5},{"c":6,"f":1.32,"v":3},
{"c":6,"f":1.5,"v":3.0},{"c":6,"f":1.59,"v":1.5},{"c":6,"f":1.68,"v":0.8},{"c":6,"f":1.78,"v":1.1},{"c":6,"f":1.88,"v":0.7},{"c":6,"f":2.0,"v":1.1},{"c":6,"f":2.11,"v":0.8},{"c":6,"f":2.24,"v":0.6},{"c":6,"f":2.37,"v":1.3},{"c":6,"f":2.51,"v":0.5},{"c":6,"f":2.66,"v":1.0},{"c":6,"f":2.82,"v":0.35},{"c":6,"f":2.99,"v":1.2},{"c":6,"f":3.16,"v":0.35},{"c":6,"f":3.35,"v":1.2},{"c":6,"f":3.55,"v":0.6},{"c":6,"f":3.76,"v":1.1},{"c":6,"f":3.98,"v":0.25},{"c":6,"f":4.22,"v":0.9},{"c":6,"f":4.47,"v":0.5},{"c":6,"f":4.73,"v":1.0},{"c":6,"f":5.01,"v":0.4},{"c":6,"f":5.31,"v":1.2},{"c":6,"f":5.62,"v":0.35},{"c":6,"f":5.96,"v":1.0},{"c":6,"f":6.31,"v":0.35},{"c":6,"f":6.68,"v":1.2},{"c":6,"f":7.08,"v":0.3},{"c":6,"f":7.5,"v":1.0},{"c":6,"f":7.94,"v":0.4},{"c":6,"f":8.41,"v":1.3},{"c":6,"f":8.91,"v":0.35},{"c":6,"f":9.44,"v":1.1},{"c":6,"f":10.0,"v":0.4},{"c":6,"f":10.6,"v":1.0},{"c":6,"f":11.2,"v":0.5},{"c":6,"f":11.9,"v":1.2},{"c":6,"f":12.6,"v":0.3},{"c":6,"f":13.3,"v":0.25},{"c":6,"f":14.1,"v":1.2},{"c":6,"f":15.0,"v":0.2},{"c":6,"f":15.8,"v":0.8},{"c":6,"f":16.8,"v":0.15},{"c":6,"f":17.8,"v":0.6},{"c":6,"f":18.8,"v":0.2},{"c":6,"f":20.0,"v":0.5},{"c":6,"f":21.1,"v":0.3},
{"c":7,"f":0.104,"v":0.87},{"c":7,"f":0.13,"v":0.88},{"c":7,"f":0.16,"v":0.9},{"c":7,"f":0.2,"v":0.95},{"c":7,"f":0.25,"v":1.0},{"c":7,"f":0.3,"v":1.1},{"c":7,"f":0.35,"v":1.2},{"c":7,"f":0.4,"v":1.4},{"c":7,"f":0.46,"v":1.7},{"c":7,"f":0.52,"v":2.0},{"c":7,"f":0.58,"v":2.4},{"c":7,"f":0.66,"v":2.9},{"c":7,"f":0.74,"v":3.3},{"c":7,"f":0.83,"v":4.2},{"c":7,"f":0.92,"v":5},{"c":7,"f":1.0,"v":6},{"c":7,"f":1.08,"v":5.5},{"c":7,"f":1.18,"v":4},{"c":7,"f":1.32,"v":2.2},
{"c":7,"f":1.5,"v":1.2},{"c":7,"f":1.59,"v":1.0},{"c":7,"f":1.68,"v":0.7},{"c":7,"f":1.78,"v":0.8},{"c":7,"f":1.88,"v":0.5},{"c":7,"f":2.0,"v":0.9},{"c":7,"f":2.11,"v":0.6},{"c":7,"f":2.24,"v":1.0},{"c":7,"f":2.37,"v":0.4},{"c":7,"f":2.51,"v":0.7},{"c":7,"f":2.66,"v":1.2},{"c":7,"f":2.82,"v":0.5},{"c":7,"f":2.99,"v":0.7},{"c":7,"f":3.16,"v":0.33},{"c":7,"f":3.35,"v":0.7},{"c":7,"f":3.55,"v":0.3},{"c":7,"f":3.76,"v":0.8},{"c":7,"f":3.98,"v":0.4},{"c":7,"f":4.22,"v":0.6},{"c":7,"f":4.47,"v":0.3},{"c":7,"f":4.73,"v":0.6},{"c":7,"f":5.01,"v":0.6},{"c":7,"f":5.31,"v":0.3},{"c":7,"f":5.62,"v":0.7},{"c":7,"f":5.96,"v":0.3},{"c":7,"f":6.31,"v":0.6},{"c":7,"f":6.68,"v":0.3},{"c":7,"f":7.08,"v":0.8},{"c":7,"f":7.5,"v":0.3},{"c":7,"f":7.94,"v":0.7},{"c":7,"f":8.41,"v":0.3},{"c":7,"f":8.91,"v":0.7},{"c":7,"f":9.44,"v":0.3},{"c":7,"f":10.0,"v":0.8},{"c":7,"f":10.6,"v":0.3},{"c":7,"f":11.2,"v":0.6},{"c":7,"f":11.9,"v":0.3},{"c":7,"f":12.6,"v":0.5},{"c":7,"f":13.3,"v":0.4},{"c":7,"f":14.1,"v":0.3},{"c":7,"f":15.0,"v":0.6},{"c":7,"f":15.8,"v":0.3},{"c":7,"f":16.8,"v":0.4},{"c":7,"f":17.8,"v":0.2},{"c":7,"f":18.8,"v":0.3},{"c":7,"f":20.0,"v":0.2},{"c":7,"f":21.1,"v":0.2},
{"c":8,"f":1.5,"v":1.6},{"c":8,"f":1.59,"v":0.7},{"c":8,"f":1.68,"v":1.8},{"c":8,"f":1.78,"v":0.6},{"c":8,"f":1.88,"v":1.4},{"c":8,"f":2.0,"v":0.7},{"c":8,"f":2.11,"v":1.6},{"c":8,"f":2.24,"v":0.5},{"c":8,"f":2.37,"v":1.2},{"c":8,"f":2.51,"v":0.6},{"c":8,"f":2.66,"v":1.5},{"c":8,"f":2.82,"v":0.5},{"c":8,"f":2.99,"v":1.1},{"c":8,"f":3.16,"v":0.5},{"c":8,"f":3.35,"v":1.4},{"c":8,"f":3.55,"v":0.4},{"c":8,"f":3.76,"v":1.0},{"c":8,"f":3.98,"v":1.6},{"c":8,"f":4.22,"v":0.4},{"c":8,"f":4.47,"v":1.2},{"c":8,"f":4.73,"v":0.5},{"c":8,"f":5.01,"v":1.6},{"c":8,"f":5.31,"v":0.5},{"c":8,"f":5.62,"v":1.4},{"c":8,"f":5.96,"v":0.6},{"c":8,"f":6.31,"v":2.0},{"c":8,"f":6.68,"v":0.5},{"c":8,"f":7.08,"v":1.5},{"c":8,"f":7.5,"v":0.6},{"c":8,"f":7.94,"v":1.8},{"c":8,"f":8.41,"v":0.5},{"c":8,"f":8.91,"v":1.4},{"c":8,"f":9.44,"v":0.6},{"c":8,"f":10.0,"v":2.0},{"c":8,"f":10.6,"v":0.5},{"c":8,"f":11.2,"v":1.6},{"c":8,"f":11.9,"v":0.5},{"c":8,"f":12.6,"v":1.3},{"c":8,"f":13.3,"v":0.6},{"c":8,"f":14.1,"v":1.5},{"c":8,"f":15.0,"v":0.4},{"c":8,"f":15.8,"v":1.2},{"c":8,"f":16.8,"v":0.5},{"c":8,"f":17.8,"v":1.0},{"c":8,"f":18.8,"v":0.3},{"c":8,"f":20.0,"v":1.2},{"c":8,"f":21.1,"v":0.4},
{"c":9,"f":1.5,"v":0.8},{"c":9,"f":1.59,"v":2.0},{"c":9,"f":1.68,"v":0.9},{"c":9,"f":1.78,"v":1.3},{"c":9,"f":1.88,"v":0.8},{"c":9,"f":2.0,"v":0.5},{"c":9,"f":2.11,"v":1.4},{"c":9,"f":2.24,"v":0.8},{"c":9,"f":2.37,"v":1.5},{"c":9,"f":2.51,"v":0.5},{"c":9,"f":2.66,"v":0.9},{"c":9,"f":2.82,"v":1.8},{"c":9,"f":2.99,"v":0.6},{"c":9,"f":3.16,"v":1.2},{"c":9,"f":3.35,"v":0.5},{"c":9,"f":3.55,"v":1.1},{"c":9,"f":3.76,"v":0.7},{"c":9,"f":3.98,"v":0.4},{"c":9,"f":4.22,"v":1.3},{"c":9,"f":4.47,"v":0.7},{"c":9,"f":4.73,"v":1.3},{"c":9,"f":5.01,"v":0.5},{"c":9,"f":5.31,"v":1.0},{"c":9,"f":5.62,"v":0.6},{"c":9,"f":5.96,"v":1.8},{"c":9,"f":6.31,"v":0.5},{"c":9,"f":6.68,"v":1.0},{"c":9,"f":7.08,"v":0.6},{"c":9,"f":7.5,"v":1.3},{"c":9,"f":7.94,"v":0.5},{"c":9,"f":8.41,"v":1.0},{"c":9,"f":8.91,"v":1.8},{"c":9,"f":9.44,"v":0.6},{"c":9,"f":10.0,"v":1.1},{"c":9,"f":10.6,"v":0.5},{"c":9,"f":11.2,"v":1.4},{"c":9,"f":11.9,"v":0.6},{"c":9,"f":12.6,"v":1.0},{"c":9,"f":13.3,"v":0.4},{"c":9,"f":14.1,"v":0.9},{"c":9,"f":15.0,"v":0.5},{"c":9,"f":15.8,"v":1.0},{"c":9,"f":16.8,"v":0.3},{"c":9,"f":17.8,"v":0.7},{"c":9,"f":18.8,"v":0.4},{"c":9,"f":20.0,"v":0.6},{"c":9,"f":21.1,"v":0.25}
],
"c":[
{"c":1,"f":0.122,"v":1.58},{"c":1,"f":0.15,"v":1.55},{"c":1,"f":0.19,"v":1.5},{"c":1,"f":0.23,"v":1.55},{"c":1,"f":0.27,"v":1.7},{"c":1,"f":0.3,"v":2.1},{"c":1,"f":0.33,"v":2.6},{"c":1,"f":0.36,"v":2.85},{"c":1,"f":0.39,"v":2.6},{"c":1,"f":0.42,"v":2.0},{"c":1,"f":0.45,"v":1.7},{"c":1,"f":0.5,"v":1.75},{"c":1,"f":0.55,"v":1.55},{"c":1,"f":0.6,"v":1.9},{"c":1,"f":0.66,"v":1.6},{"c":1,"f":0.72,"v":2.0},{"c":1,"f":0.8,"v":1.4},{"c":1,"f":0.88,"v":1.2},{"c":1,"f":0.95,"v":1.6},{"c":1,"f":1.02,"v":2.1},{"c":1,"f":1.1,"v":1.4},{"c":1,"f":1.2,"v":0.9},{"c":1,"f":1.32,"v":1.3},{"c":1,"f":1.42,"v":0.8},
{"c":1,"f":1.5,"v":1.2},{"c":1,"f":1.59,"v":0.6},{"c":1,"f":1.68,"v":1.0},{"c":1,"f":1.78,"v":0.4},{"c":1,"f":1.88,"v":0.9},{"c":1,"f":2.0,"v":0.3},{"c":1,"f":2.11,"v":0.8},{"c":1,"f":2.24,"v":0.5},{"c":1,"f":2.37,"v":1.3},{"c":1,"f":2.51,"v":0.3},{"c":1,"f":2.66,"v":1.0},{"c":1,"f":2.82,"v":0.4},{"c":1,"f":2.99,"v":1.6},{"c":1,"f":3.16,"v":0.5},{"c":1,"f":3.35,"v":1.2},{"c":1,"f":3.55,"v":0.5},{"c":1,"f":3.76,"v":2.5},{"c":1,"f":3.98,"v":0.7},{"c":1,"f":4.22,"v":2.3},{"c":1,"f":4.47,"v":0.8},{"c":1,"f":4.73,"v":2.8},{"c":1,"f":5.01,"v":0.9},{"c":1,"f":5.31,"v":5.6},{"c":1,"f":5.62,"v":1.0},{"c":1,"f":5.96,"v":3.2},{"c":1,"f":6.31,"v":1.2},{"c":1,"f":6.68,"v":2.5},{"c":1,"f":7.08,"v":1.5},{"c":1,"f":7.5,"v":9.3},{"c":1,"f":7.94,"v":2.0},{"c":1,"f":8.41,"v":6.0},{"c":1,"f":8.91,"v":2.5},{"c":1,"f":9.44,"v":22},{"c":1,"f":10.0,"v":2.0},{"c":1,"f":10.6,"v":8.0},{"c":1,"f":11.2,"v":3.0},{"c":1,"f":11.9,"v":10},{"c":1,"f":12.6,"v":3.5},{"c":1,"f":13.3,"v":12},{"c":1,"f":14.1,"v":3.0},{"c":1,"f":15.0,"v":10},{"c":1,"f":15.8,"v":4.0},{"c":1,"f":16.8,"v":12},
{"c":2,"f":0.122,"v":1.34},{"c":2,"f":0.15,"v":1.2},{"c":2,"f":0.19,"v":1.15},{"c":2,"f":0.23,"v":1.25},{"c":2,"f":0.27,"v":1.5},{"c":2,"f":0.3,"v":1.8},{"c":2,"f":0.34,"v":2.2},{"c":2,"f":0.38,"v":2.3},{"c":2,"f":0.42,"v":1.9},{"c":2,"f":0.46,"v":1.6},{"c":2,"f":0.5,"v":1.5},{"c":2,"f":0.55,"v":1.9},{"c":2,"f":0.6,"v":1.7},{"c":2,"f":0.65,"v":1.3},{"c":2,"f":0.7,"v":1.8},{"c":2,"f":0.76,"v":1.2},{"c":2,"f":0.82,"v":0.9},{"c":2,"f":0.9,"v":1.5},{"c":2,"f":0.97,"v":1.1},{"c":2,"f":1.05,"v":0.8},{"c":2,"f":1.15,"v":1.2},{"c":2,"f":1.25,"v":0.7},{"c":2,"f":1.38,"v":1.0},
{"c":2,"f":1.5,"v":0.8},{"c":2,"f":1.59,"v":1.3},{"c":2,"f":1.68,"v":0.5},{"c":2,"f":1.78,"v":1.1},{"c":2,"f":1.88,"v":0.4},{"c":2,"f":2.0,"v":1.1},{"c":2,"f":2.11,"v":0.35},{"c":2,"f":2.24,"v":1.2},{"c":2,"f":2.37,"v":0.4},{"c":2,"f":2.51,"v":1.6},{"c":2,"f":2.66,"v":0.3},{"c":2,"f":2.82,"v":1.5},{"c":2,"f":2.99,"v":0.35},{"c":2,"f":3.16,"v":1.4},{"c":2,"f":3.35,"v":0.4},{"c":2,"f":3.55,"v":2.1},{"c":2,"f":3.76,"v":0.5},{"c":2,"f":3.98,"v":2.0},{"c":2,"f":4.22,"v":0.6},{"c":2,"f":4.47,"v":4.2},{"c":2,"f":4.73,"v":0.7},{"c":2,"f":5.01,"v":2.0},{"c":2,"f":5.31,"v":0.8},{"c":2,"f":5.62,"v":3.4},{"c":2,"f":5.96,"v":0.9},{"c":2,"f":6.31,"v":3.0},{"c":2,"f":6.68,"v":1.0},{"c":2,"f":7.08,"v":6.2},{"c":2,"f":7.5,"v":1.5},{"c":2,"f":7.94,"v":7.6},{"c":2,"f":8.41,"v":2.0},{"c":2,"f":8.91,"v":10.6},{"c":2,"f":9.44,"v":1.5},{"c":2,"f":10.0,"v":9.0},{"c":2,"f":10.6,"v":2.5},{"c":2,"f":11.2,"v":18},{"c":2,"f":11.9,"v":2.0},{"c":2,"f":12.6,"v":8.0},{"c":2,"f":13.3,"v":2.5},{"c":2,"f":14.1,"v":17},{"c":2,"f":15.0,"v":2.0},{"c":2,"f":15.8,"v":14},{"c":2,"f":16.8,"v":3.0},
{"c":3,"f":0.122,"v":1.18},{"c":3,"f":0.15,"v":1.05},{"c":3,"f":0.19,"v":0.98},{"c":3,"f":0.23,"v":1.05},{"c":3,"f":0.27,"v":1.2},{"c":3,"f":0.31,"v":1.5},{"c":3,"f":0.35,"v":1.9},{"c":3,"f":0.39,"v":2.1},{"c":3,"f":0.43,"v":1.7},{"c":3,"f":0.47,"v":1.3},{"c":3,"f":0.52,"v":1.1},{"c":3,"f":0.57,"v":1.3},{"c":3,"f":0.62,"v":1.0},{"c":3,"f":0.68,"v":1.2},{"c":3,"f":0.74,"v":0.85},{"c":3,"f":0.8,"v":1.0},{"c":3,"f":0.87,"v":0.7},{"c":3,"f":0.95,"v":0.9},{"c":3,"f":1.05,"v":1.2},{"c":3,"f":1.15,"v":0.8},{"c":3,"f":1.27,"v":0.6},{"c":3,"f":1.4,"v":0.9},
{"c":3,"f":1.5,"v":0.6},{"c":3,"f":1.59,"v":0.3},{"c":3,"f":1.68,"v":0.9},{"c":3,"f":1.78,"v":0.25},{"c":3,"f":1.88,"v":0.7},{"c":3,"f":2.0,"v":0.2},{"c":3,"f":2.11,"v":0.6},{"c":3,"f":2.24,"v":0.25},{"c":3,"f":2.37,"v":0.8},{"c":3,"f":2.51,"v":0.13},{"c":3,"f":2.66,"v":0.7},{"c":3,"f":2.82,"v":0.2},{"c":3,"f":2.99,"v":0.9},{"c":3,"f":3.16,"v":0.15},{"c":3,"f":3.35,"v":0.8},{"c":3,"f":3.55,"v":0.3},{"c":3,"f":3.76,"v":1.2},{"c":3,"f":3.98,"v":0.3},{"c":3,"f":4.22,"v":1.2},{"c":3,"f":4.47,"v":0.35},{"c":3,"f":4.73,"v":1.5},{"c":3,"f":5.01,"v":0.45},{"c":3,"f":5.31,"v":2.0},{"c":3,"f":5.62,"v":0.6},{"c":3,"f":5.96,"v":1.8},{"c":3,"f":6.31,"v":0.6},{"c":3,"f":6.68,"v":2.0},{"c":3,"f":7.08,"v":0.9},{"c":3,"f":7.5,"v":4.0},{"c":3,"f":7.94,"v":1.0},{"c":3,"f":8.41,"v":8.5},{"c":3,"f":8.91,"v":1.2},{"c":3,"f":9.44,"v":5.0},{"c":3,"f":10.0,"v":0.5},{"c":3,"f":10.6,"v":12},{"c":3,"f":11.2,"v":1.0},{"c":3,"f":11.9,"v":6.0},{"c":3,"f":12.6,"v":15},{"c":3,"f":13.3,"v":1.2},{"c":3,"f":14.1,"v":8.0},{"c":3,"f":15.0,"v":1.0},{"c":3,"f":15.8,"v":6.0},{"c":3,"f":16.8,"v":1.5},
{"c":4,"f":0.122,"v":1.07},{"c":4,"f":0.15,"v":0.98},{"c":4,"f":0.19,"v":0.95},{"c":4,"f":0.23,"v":1.0},{"c":4,"f":0.27,"v":1.08},{"c":4,"f":0.31,"v":1.3},{"c":4,"f":0.35,"v":1.6},{"c":4,"f":0.39,"v":1.8},{"c":4,"f":0.43,"v":1.5},{"c":4,"f":0.47,"v":1.15},{"c":4,"f":0.52,"v":0.95},{"c":4,"f":0.57,"v":0.85},{"c":4,"f":0.62,"v":0.75},{"c":4,"f":0.68,"v":0.9},{"c":4,"f":0.75,"v":0.65},{"c":4,"f":0.8,"v":0.6},{"c":4,"f":0.85,"v":0.52},{"c":4,"f":0.9,"v":0.7},{"c":4,"f":1.0,"v":0.9},{"c":4,"f":1.1,"v":0.7},{"c":4,"f":1.2,"v":0.55},{"c":4,"f":1.32,"v":0.75},{"c":4,"f":1.45,"v":0.5},
{"c":4,"f":1.5,"v":0.45},{"c":4,"f":1.59,"v":0.7},{"c":4,"f":1.68,"v":0.2},{"c":4,"f":1.78,"v":0.6},{"c":4,"f":1.88,"v":0.16},{"c":4,"f":2.0,"v":0.5},{"c":4,"f":2.11,"v":0.18},{"c":4,"f":2.24,"v":0.5},{"c":4,"f":2.37,"v":0.15},{"c":4,"f":2.51,"v":0.6},{"c":4,"f":2.66,"v":0.15},{"c":4,"f":2.82,"v":0.6},{"c":4,"f":2.99,"v":0.15},{"c":4,"f":3.16,"v":0.5},{"c":4,"f":3.35,"v":0.2},{"c":4,"f":3.55,"v":0.6},{"c":4,"f":3.76,"v":0.3},{"c":4,"f":3.98,"v":0.8},{"c":4,"f":4.22,"v":0.3},{"c":4,"f":4.47,"v":1.0},{"c":4,"f":4.73,"v":0.3},{"c":4,"f":5.01,"v":4.5},{"c":4,"f":5.31,"v":0.5},{"c":4,"f":5.62,"v":1.5},{"c":4,"f":5.96,"v":0.5},{"c":4,"f":6.31,"v":1.2},{"c":4,"f":6.68,"v":0.5},{"c":4,"f":7.08,"v":2.5},{"c":4,"f":7.5,"v":0.7},{"c":4,"f":7.94,"v":3.5},{"c":4,"f":8.41,"v":0.8},{"c":4,"f":8.91,"v":5.0},{"c":4,"f":9.44,"v":0.7},{"c":4,"f":10.0,"v":3.0},{"c":4,"f":10.6,"v":0.48},{"c":4,"f":11.2,"v":5.0},{"c":4,"f":11.9,"v":0.7},{"c":4,"f":12.6,"v":4.0},{"c":4,"f":13.3,"v":0.6},{"c":4,"f":14.1,"v":6.0},{"c":4,"f":15.0,"v":0.5},{"c":4,"f":15.8,"v":4.0},{"c":4,"f":16.8,"v":0.7},
{"c":5,"f":0.122,"v":0.97},{"c":5,"f":0.15,"v":0.95},{"c":5,"f":0.19,"v":0.98},{"c":5,"f":0.23,"v":1.05},{"c":5,"f":0.27,"v":1.15},{"c":5,"f":0.31,"v":1.25},{"c":5,"f":0.35,"v":1.4},{"c":5,"f":0.39,"v":1.5},{"c":5,"f":0.43,"v":1.35},{"c":5,"f":0.47,"v":1.2},{"c":5,"f":0.52,"v":1.3},{"c":5,"f":0.58,"v":1.1},{"c":5,"f":0.64,"v":0.95},{"c":5,"f":0.7,"v":1.4},{"c":5,"f":0.76,"v":1.0},{"c":5,"f":0.82,"v":0.8},{"c":5,"f":0.9,"v":1.1},{"c":5,"f":0.98,"v":0.75},{"c":5,"f":1.07,"v":1.0},{"c":5,"f":1.17,"v":0.65},{"c":5,"f":1.3,"v":0.85},{"c":5,"f":1.42,"v":0.6},
{"c":5,"f":1.5,"v":1.0},{"c":5,"f":1.59,"v":0.4},{"c":5,"f":1.68,"v":0.7},{"c":5,"f":1.78,"v":0.3},{"c":5,"f":1.88,"v":0.5},{"c":5,"f":2.0,"v":0.3},{"c":5,"f":2.11,"v":1.0},{"c":5,"f":2.24,"v":0.2},{"c":5,"f":2.37,"v":0.6},{"c":5,"f":2.51,"v":0.2},{"c":5,"f":2.66,"v":1.4},{"c":5,"f":2.82,"v":0.14},{"c":5,"f":2.99,"v":0.5},{"c":5,"f":3.16,"v":0.13},{"c":5,"f":3.35,"v":0.6},{"c":5,"f":3.55,"v":0.2},{"c":5,"f":3.76,"v":0.8},{"c":5,"f":3.98,"v":0.25},{"c":5,"f":4.22,"v":0.7},{"c":5,"f":4.47,"v":0.25},{"c":5,"f":4.73,"v":0.9},{"c":5,"f":5.01,"v":0.35},{"c":5,"f":5.31,"v":1.2},{"c":5,"f":5.62,"v":0.4},{"c":5,"f":5.96,"v":1.4},{"c":5,"f":6.31,"v":0.45},{"c":5,"f":6.68,"v":3.4},{"c":5,"f":7.08,"v":0.6},{"c":5,"f":7.5,"v":2.5},{"c":5,"f":7.94,"v":0.75},{"c":5,"f":8.41,"v":3.0},{"c":5,"f":8.91,"v":0.9},{"c":5,"f":9.44,"v":3.5},{"c":5,"f":10.0,"v":0.8},{"c":5,"f":10.6,"v":2.5},{"c":5,"f":11.2,"v":0.6},{"c":5,"f":11.9,"v":3.0},{"c":5,"f":12.6,"v":0.8},{"c":5,"f":13.3,"v":4.0},{"c":5,"f":14.1,"v":0.7},{"c":5,"f":15.0,"v":5.0},{"c":5,"f":15.8,"v":0.6},{"c":5,"f":16.8,"v":3.0},
{"c":6,"f":0.122,"v":0.82},{"c":6,"f":0.15,"v":0.86},{"c":6,"f":0.19,"v":0.9},{"c":6,"f":0.23,"v":0.95},{"c":6,"f":0.27,"v":1.0},{"c":6,"f":0.31,"v":1.08},{"c":6,"f":0.35,"v":1.15},{"c":6,"f":0.38,"v":1.18},{"c":6,"f":0.42,"v":1.05},{"c":6,"f":0.45,"v":0.9},{"c":6,"f":0.5,"v":1.1},{"c":6,"f":0.56,"v":0.95},{"c":6,"f":0.62,"v":1.05},{"c":6,"f":0.68,"v":0.8},{"c":6,"f":0.74,"v":0.9},{"c":6,"f":0.8,"v":0.7},{"c":6,"f":0.88,"v":0.85},{"c":6,"f":0.96,"v":0.6},{"c":6,"f":1.05,"v":0.8},{"c":6,"f":1.15,"v":0.55},{"c":6,"f":1.28,"v":0.7},{"c":6,"f":1.4,"v":0.45},
{"c":6,"f":1.5,"v":1.5},{"c":6,"f":1.59,"v":0.8},{"c":6,"f":1.68,"v":1.2},{"c":6,"f":1.78,"v":0.6},{"c":6,"f":1.88,"v":1.0},{"c":6,"f":2.0,"v":0.5},{"c":6,"f":2.11,"v":0.8},{"c":6,"f":2.24,"v":1.2},{"c":6,"f":2.37,"v":0.4},{"c":6,"f":2.51,"v":0.9},{"c":6,"f":2.66,"v":0.3},{"c":6,"f":2.82,"v":1.0},{"c":6,"f":2.99,"v":0.4},{"c":6,"f":3.16,"v":1.0},{"c":6,"f":3.35,"v":0.3},{"c":6,"f":3.55,"v":1.2},{"c":6,"f":3.76,"v":0.5},{"c":6,"f":3.98,"v":1.4},{"c":6,"f":4.22,"v":0.5},{"c":6,"f":4.47,"v":1.5},{"c":6,"f":4.73,"v":0.6},{"c":6,"f":5.01,"v":2.0},{"c":6,"f":5.31,"v":0.7},{"c":6,"f":5.62,"v":2.2},{"c":6,"f":5.96,"v":0.8},{"c":6,"f":6.31,"v":1.8},{"c":6,"f":6.68,"v":0.9},{"c":6,"f":7.08,"v":3.0},{"c":6,"f":7.5,"v":1.2},{"c":6,"f":7.94,"v":3.5},{"c":6,"f":8.41,"v":1.5},{"c":6,"f":8.91,"v":4.0},{"c":6,"f":9.44,"v":2.0},{"c":6,"f":10.0,"v":6.0},{"c":6,"f":10.6,"v":1.5},{"c":6,"f":11.2,"v":5.0},{"c":6,"f":11.9,"v":2.0},{"c":6,"f":12.6,"v":7.0},{"c":6,"f":13.3,"v":1.5},{"c":6,"f":14.1,"v":6.0},{"c":6,"f":15.0,"v":1.5},{"c":6,"f":15.8,"v":8.0},{"c":6,"f":16.8,"v":2.0},
{"c":7,"f":0.122,"v":1.45},{"c":7,"f":0.14,"v":1.2},{"c":7,"f":0.17,"v":1.05},{"c":7,"f":0.21,"v":1.0},{"c":7,"f":0.25,"v":1.1},{"c":7,"f":0.29,"v":1.3},{"c":7,"f":0.33,"v":1.7},{"c":7,"f":0.37,"v":2.0},{"c":7,"f":0.41,"v":1.8},{"c":7,"f":0.46,"v":1.4},{"c":7,"f":0.51,"v":1.6},{"c":7,"f":0.56,"v":1.4},{"c":7,"f":0.62,"v":1.6},{"c":7,"f":0.68,"v":1.3},{"c":7,"f":0.74,"v":1.7},{"c":7,"f":0.8,"v":1.3},{"c":7,"f":0.86,"v":1.0},{"c":7,"f":0.93,"v":1.3},{"c":7,"f":1.0,"v":1.0},{"c":7,"f":1.08,"v":1.5},{"c":7,"f":1.16,"v":1.1},{"c":7,"f":1.26,"v":0.8},{"c":7,"f":1.38,"v":1.2},
{"c":7,"f":1.5,"v":0.7},{"c":7,"f":1.59,"v":0.5},{"c":7,"f":1.68,"v":0.4},{"c":7,"f":1.78,"v":0.8},{"c":7,"f":1.88,"v":0.3},{"c":7,"f":2.0,"v":0.6},{"c":7,"f":2.11,"v":0.25},{"c":7,"f":2.24,"v":0.7},{"c":7,"f":2.37,"v":0.2},{"c":7,"f":2.51,"v":0.5},{"c":7,"f":2.66,"v":0.25},{"c":7,"f":2.82,"v":0.6},{"c":7,"f":2.99,"v":0.2},{"c":7,"f":3.16,"v":0.7},{"c":7,"f":3.35,"v":0.15},{"c":7,"f":3.55,"v":0.5},{"c":7,"f":3.76,"v":0.4},{"c":7,"f":3.98,"v":0.7},{"c":7,"f":4.22,"v":0.4},{"c":7,"f":4.47,"v":0.8},{"c":7,"f":4.73,"v":0.5},{"c":7,"f":5.01,"v":1.0},{"c":7,"f":5.31,"v":0.4},{"c":7,"f":5.62,"v":1.0},{"c":7,"f":5.96,"v":0.43},{"c":7,"f":6.31,"v":1.3},{"c":7,"f":6.68,"v":0.45},{"c":7,"f":7.08,"v":1.5},{"c":7,"f":7.5,"v":0.8},{"c":7,"f":7.94,"v":2.0},{"c":7,"f":8.41,"v":0.9},{"c":7,"f":8.91,"v":2.5},{"c":7,"f":9.44,"v":0.8},{"c":7,"f":10.0,"v":1.2},{"c":7,"f":10.6,"v":0.8},{"c":7,"f":11.2,"v":1.5},{"c":7,"f":11.9,"v":0.9},{"c":7,"f":12.6,"v":2.0},{"c":7,"f":13.3,"v":0.8},{"c":7,"f":14.1,"v":1.5},{"c":7,"f":15.0,"v":0.6},{"c":7,"f":15.8,"v":2.0},{"c":7,"f":16.8,"v":1.0},
{"c":8,"f":1.5,"v":0.9},{"c":8,"f":1.59,"v":0.5},{"c":8,"f":1.68,"v":0.8},{"c":8,"f":1.78,"v":0.35},{"c":8,"f":1.88,"v":0.6},{"c":8,"f":2.0,"v":0.25},{"c":8,"f":2.11,"v":0.5},{"c":8,"f":2.24,"v":0.3},{"c":8,"f":2.37,"v":0.6},{"c":8,"f":2.51,"v":0.25},{"c":8,"f":2.66,"v":0.5},{"c":8,"f":2.82,"v":0.3},{"c":8,"f":2.99,"v":0.6},{"c":8,"f":3.16,"v":0.25},{"c":8,"f":3.35,"v":0.5},{"c":8,"f":3.55,"v":0.4},{"c":8,"f":3.76,"v":0.9},{"c":8,"f":3.98,"v":0.4},{"c":8,"f":4.22,"v":1.0},{"c":8,"f":4.47,"v":0.5},{"c":8,"f":4.73,"v":1.2},{"c":8,"f":5.01,"v":0.6},{"c":8,"f":5.31,"v":1.5},{"c":8,"f":5.62,"v":0.7},{"c":8,"f":5.96,"v":1.6},{"c":8,"f":6.31,"v":0.8},{"c":8,"f":6.68,"v":2.0},{"c":8,"f":7.08,"v":1.2},{"c":8,"f":7.5,"v":3.0},{"c":8,"f":7.94,"v":1.5},{"c":8,"f":8.41,"v":4.0},{"c":8,"f":8.91,"v":2.0},{"c":8,"f":9.44,"v":5.0},{"c":8,"f":10.0,"v":2.5},{"c":8,"f":10.6,"v":6.0},{"c":8,"f":11.2,"v":2.0},{"c":8,"f":11.9,"v":5.0},{"c":8,"f":12.6,"v":2.5},{"c":8,"f":13.3,"v":6.0},{"c":8,"f":14.1,"v":2.0},{"c":8,"f":15.0,"v":5.0},{"c":8,"f":15.8,"v":3.0},{"c":8,"f":16.8,"v":6.0},
{"c":9,"f":1.5,"v":0.6},{"c":9,"f":1.59,"v":1.0},{"c":9,"f":1.68,"v":0.3},{"c":9,"f":1.78,"v":0.5},{"c":9,"f":1.88,"v":0.25},{"c":9,"f":2.0,"v":0.7},{"c":9,"f":2.11,"v":0.2},{"c":9,"f":2.24,"v":0.4},{"c":9,"f":2.37,"v":0.3},{"c":9,"f":2.51,"v":0.8},{"c":9,"f":2.66,"v":0.2},{"c":9,"f":2.82,"v":0.4},{"c":9,"f":2.99,"v":0.25},{"c":9,"f":3.16,"v":0.6},{"c":9,"f":3.35,"v":0.3},{"c":9,"f":3.55,"v":0.8},{"c":9,"f":3.76,"v":0.3},{"c":9,"f":3.98,"v":0.6},{"c":9,"f":4.22,"v":0.5},{"c":9,"f":4.47,"v":1.3},{"c":9,"f":4.73,"v":0.4},{"c":9,"f":5.01,"v":0.8},{"c":9,"f":5.31,"v":0.5},{"c":9,"f":5.62,"v":1.2},{"c":9,"f":5.96,"v":0.5},{"c":9,"f":6.31,"v":1.0},{"c":9,"f":6.68,"v":0.6},{"c":9,"f":7.08,"v":1.8},{"c":9,"f":7.5,"v":1.0},{"c":9,"f":7.94,"v":2.5},{"c":9,"f":8.41,"v":1.2},{"c":9,"f":8.91,"v":3.0},{"c":9,"f":9.44,"v":1.8},{"c":9,"f":10.0,"v":4.0},{"c":9,"f":10.6,"v":1.5},{"c":9,"f":11.2,"v":3.5},{"c":9,"f":11.9,"v":2.0},{"c":9,"f":12.6,"v":4.5},{"c":9,"f":13.3,"v":1.8},{"c":9,"f":14.1,"v":3.0},{"c":9,"f":15.0,"v":2.5},{"c":9,"f":15.8,"v":5.0},{"c":9,"f":16.8,"v":1.5}
]
},
"hconcat":[
{"width":245,"height":351,"title":{"text":"GS.WSB / GS.WFG"},"data":{"name":"a"},"mark":{"type":"line"},
 "encoding":{
  "x":{"field":"f","type":"quantitative","scale":{"type":"log","domain":[0.0964,20.5],"nice":false},"axis":{"title":"Frequency (Hz)","titleX":128.5,"values":[0.2,0.3,0.4,0.5,0.6,0.7,0.8,0.9,1,2,3,4,5,6,7,8,9,10,20],"labelExpr":"datum.value == 1 ? '10⁰' : datum.value == 10 ? '10¹' : ''"}},
  "y":{"field":"v","type":"quantitative","scale":{"type":"log","domain":[0.1,100],"nice":false},"axis":{"title":"cm/s","values":[0.2,0.3,0.4,0.5,0.6,0.7,0.8,0.9,1,2,3,4,5,6,7,8,9,10,20,30,40,50,60,70,80,90,100],"labelExpr":"datum.value == 1 ? '10⁰' : datum.value == 10 ? '10¹' : datum.value == 100 ? '10²' : ''"}},
  "detail":{"field":"c","type":"nominal"}
 }},
{"width":241,"height":351,"title":{"text":"GS.WKW / GS.WFG"},"data":{"name":"b"},"mark":{"type":"line"},
 "encoding":{
  "x":{"field":"f","type":"quantitative","scale":{"type":"log","domain":[0.0872,21.2],"nice":false},"axis":{"title":"Frequency (Hz)","titleX":127,"values":[0.2,0.3,0.4,0.5,0.6,0.7,0.8,0.9,1,2,3,4,5,6,7,8,9,10,20],"labelExpr":"datum.value == 1 ? '10⁰' : datum.value == 10 ? '10¹' : ''"}},
  "y":{"field":"v","type":"quantitative","scale":{"type":"log","domain":[0.1,100],"nice":false},"axis":{"title":"cm/s","values":[0.2,0.3,0.4,0.5,0.6,0.7,0.8,0.9,1,2,3,4,5,6,7,8,9,10,20,30,40,50,60,70,80,90,100],"labelExpr":"datum.value == 1 ? '10⁰' : datum.value == 10 ? '10¹' : datum.value == 100 ? '10²' : ''"}},
  "detail":{"field":"c","type":"nominal"}
 }},
{"width":235,"height":351,"title":{"text":"ISK003 / GS.WFG"},"data":{"name":"c"},"mark":{"type":"line"},
 "encoding":{
  "x":{"field":"f","type":"quantitative","scale":{"type":"log","domain":[0.1005,16.16],"nice":false},"axis":{"title":"Frequency (Hz)","titleX":126,"values":[0.2,0.3,0.4,0.5,0.6,0.7,0.8,0.9,1,2,3,4,5,6,7,8,9,10],"labelExpr":"datum.value == 1 ? '10⁰' : datum.value == 10 ? '10¹' : ''"}},
  "y":{"field":"v","type":"quantitative","scale":{"type":"log","domain":[0.1,100],"nice":false},"axis":{"title":"cm/s","values":[0.2,0.3,0.4,0.5,0.6,0.7,0.8,0.9,1,2,3,4,5,6,7,8,9,10,20,30,40,50,60,70,80,90,100],"labelExpr":"datum.value == 1 ? '10⁰' : datum.value == 10 ? '10¹' : datum.value == 100 ? '10²' : ''"}},
  "detail":{"field":"c","type":"nominal"}
 }}
]
}
